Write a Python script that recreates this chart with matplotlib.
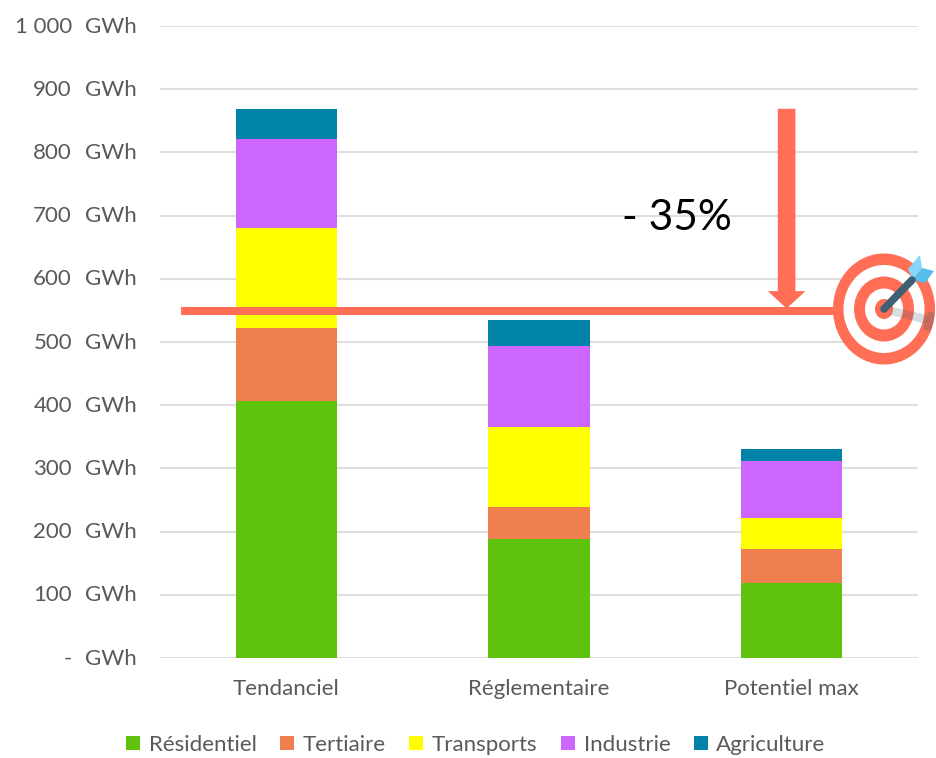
import matplotlib
matplotlib.use("Agg")
import matplotlib.pyplot as plt
from matplotlib.patches import Ellipse, Polygon
import numpy as np

plt.rcParams['font.family'] = ['Lato', 'DejaVu Sans']

# Donnees (GWh)
scenarios = ["Tendanciel", "Réglementaire", "Potentiel max"]
secteurs = ["Résidentiel", "Tertiaire", "Transports", "Industrie", "Agriculture"]
residentiel = [407, 188, 118]
tertiaire = [115, 51, 55]
transports = [158, 126, 48]
industrie = [141, 129, 91]
agriculture = [48, 41, 19]
valeurs = [residentiel, tertiaire, transports, industrie, agriculture]
couleurs = ["#5FC30E", "#EF7F4F", "#FFFF00", "#CC66FF", "#0083A6"]

ticks = [0, 100, 200, 300, 400, 500, 600, 700, 800, 900, 1000]
tick_labels = ["-", "100", "200", "300", "400", "500", "600", "700", "800", "900", "1 000"]
objectif = 549
depart = 869
corail = "#FF6E55"
gris = "#595959"
taille = 16

W, H = 936, 758
fig = plt.figure(figsize=(W / 100, H / 100), dpi=100)
ax = fig.add_axes([160 / W, 1 - 658 / H, (918 - 160) / W, (658 - 26) / H])

x = np.arange(len(scenarios))
bas = np.zeros(len(scenarios))
for nom, vals, c in zip(secteurs, valeurs, couleurs):
    ax.bar(x, vals, 0.4, bottom=bas, color=c, label=nom, zorder=3)
    bas += np.array(vals)

ax.set_xlim(-0.5, 2.5)
ax.set_ylim(0, 1000)
ax.set_yticks(ticks)
ax.set_yticklabels([])
ax.set_xticks(x)
ax.set_xticklabels(scenarios, fontsize=taille, color=gris)
ax.tick_params(length=0)
ax.tick_params(axis='x', pad=15)
ax.grid(axis='y', color="#DEDEDE", lw=1.5, zorder=0)
ax.set_axisbelow(True)
for s in ax.spines.values():
    s.set_visible(False)

# etiquettes de l'axe y : nombre + unite, comme un format comptable
tr = ax.get_yaxis_transform()
for t, lab in zip(ticks, tick_labels):
    ax.text(-88 / 758, t - 1, lab, transform=tr, ha='right', va='center', fontsize=taille, color=gris)
    ax.text(-23 / 758, t - 1, "GWh", transform=tr, ha='right', va='center', fontsize=taille, color=gris)

# objectif et fleche
ax.plot([-0.417, 2.17], [objectif, objectif], color=corail, lw=5.8, solid_capstyle='butt', zorder=5)
ax.annotate("", xy=(1.98, objectif + 4), xytext=(1.98, depart), zorder=6,
            arrowprops=dict(arrowstyle="simple,head_width=2.7,head_length=1.25,tail_width=1.27",
                            color=corail, lw=0, shrinkA=0, shrinkB=0, mutation_scale=10))
ax.text(1.545, 696, "- 35%", fontsize=30.5, color="black", ha='center', va='center', zorder=6)

# legende
fig.legend(*ax.get_legend_handles_labels(), loc='center', bbox_to_anchor=(476 / W, 1 - 745 / H),
           ncol=5, frameon=False, fontsize=taille, labelcolor=gris, handlelength=0.62, handleheight=0.62,
           columnspacing=1.05, handletextpad=0.4)

# icone de la cible, en pixels de la figure
ic = fig.add_axes([0, 0, 1, 1], zorder=10)
ic.set_xlim(0, W)
ic.set_ylim(H, 0)
ic.axis('off')
cx, cy = 884, 309
disque = Ellipse((cx, cy), 102, 111, color=corail, lw=0)
ic.add_patch(disque)
for w, h, c in [(81, 88, "white"), (60, 65, corail), (38, 41, "white"), (18, 20, corail)]:
    ic.add_patch(Ellipse((cx, cy), w, h, color=c, lw=0))
ombre = ic.add_patch(Polygon([[892, 307], [928, 315], [926, 324], [890, 315]], color="#4A6070", alpha=0.22, lw=0))
tache = ic.add_patch(Polygon([[928, 312], [935, 313], [932, 332], [923, 329]], color="#4A6070", alpha=0.3, lw=0))
tache.set_clip_path(disque)
ic.plot([cx, 912], [cy, 280], color="#3F5F75", lw=5.5, solid_capstyle='round')
ic.add_patch(Polygon([[908, 269], [920, 255], [922, 268], [913, 280]], color="#86D5FA", lw=0))
ic.add_patch(Polygon([[913, 280], [922, 268], [934, 271], [925, 283]], color="#54BDEB", lw=0))

fig.savefig("out.png", dpi=100)
